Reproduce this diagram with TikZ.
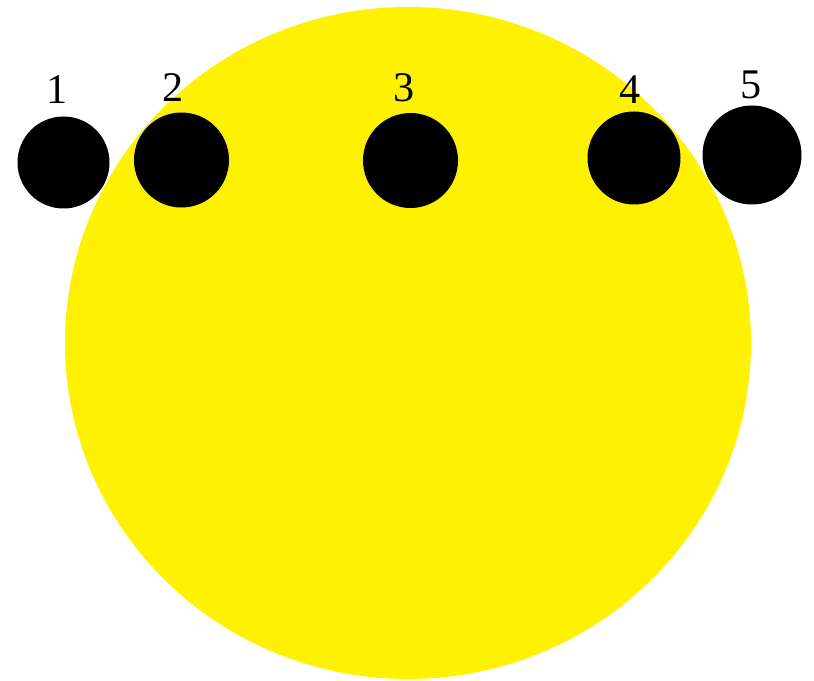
\documentclass[tikz,border=0pt]{standalone}
\usepackage{fontspec}
\setmainfont{Liberation Serif}
\usepackage{tikz}
\usetikzlibrary{positioning, calc}
\usepackage{xcolor}
\definecolor{sunyellow}{RGB}{255,242,0}

\begin{document}
\begin{tikzpicture}[x=0.025cm, y=-0.025cm,
  disc/.style={circle, fill=black, inner sep=0pt},
  numlabel/.style={font=\fontsize{30}{32}\selectfont, inner sep=0pt}]
  \useasboundingbox (0,0) rectangle (814,681);
  % big yellow disc
  \fill[sunyellow] (408,343) ellipse [x radius=343, y radius=336];
  % small black discs with their numbers
  \foreach \n/\x/\y/\r/\lx/\ly in {1/63.5/162.5/46/57.5/90, 2/181.5/160/47.5/173/88, 3/410.5/160.5/47.5/404/88, 4/634/158/46.5/630/90, 5/752/155/49.5/751/85} {
    \node[disc, minimum size=2*\r*0.025cm] (b\n) at (\x,\y) {};
    \node[numlabel] (l\n) at (\lx,\ly) {\n};
  }
\end{tikzpicture}
\end{document}
